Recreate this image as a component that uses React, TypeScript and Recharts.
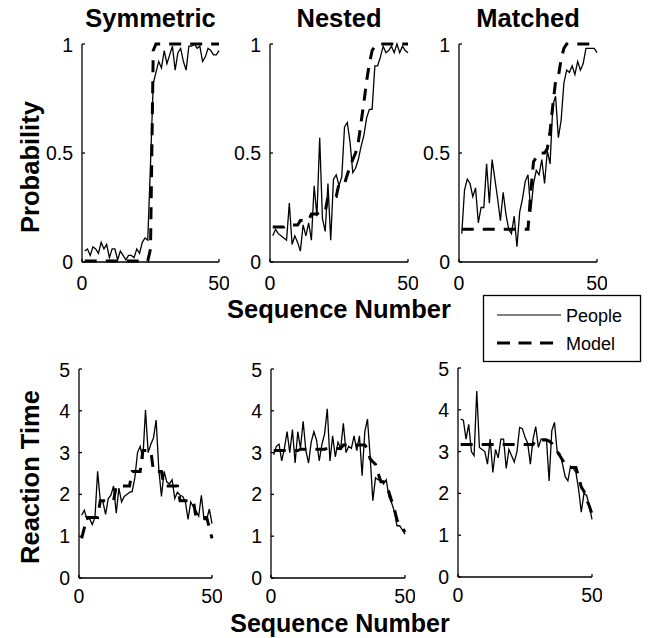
import { LineChart, Line, XAxis, YAxis } from "recharts";

const FONT = "'Liberation Sans', Arial, Helvetica, sans-serif";

const seq = [
  1, 2, 3, 4, 5, 6, 7, 8, 9, 10, 11, 12, 13, 14, 15, 16, 17, 18, 19, 20, 21, 22, 23, 24, 25,
  26, 27, 28, 29, 30, 31, 32, 33, 34, 35, 36, 37, 38, 39, 40, 41, 42, 43, 44, 45, 46, 47, 48, 49, 50,
];

const titles = ["Symmetric", "Nested", "Matched"];
const probTicks = [0, 0.5, 1];
const rtTicks = [0, 1, 2, 3, 4, 5];
const xTicks = [0, 50];

// probability of choosing, people vs model
const symProbPeople = [
  0.05, 0.06, 0.03, 0.07, 0.06, 0.04, 0.09, 0.06, 0.08, 0.02, 0.06, 0.06, 0.01, 0.05, 0.03, 0.01, 0.03, 0.03, 0.02, 0.06,
  0.04, 0.09, 0.11, 0.1, 0.45, 0.82, 0.87, 0.92, 0.89, 0.97, 0.91, 0.95, 0.99, 0.88, 0.96, 0.98, 0.92, 0.88, 0.99, 0.99,
  1.0, 0.98, 0.99, 0.92, 0.94, 0.98, 0.97, 0.95, 0.95, 0.97,
];
const symProbModel = [
  0.005, 0.005, 0.005, 0.005, 0.005, 0.005, 0.005, 0.005, 0.005, 0.005, 0.005, 0.005, 0.005, 0.005, 0.005, 0.005, 0.005,
  0.005, 0.005, 0.005, 0.005, 0.005, 0.005, 0.005, 0.06, 0.97, 1, 1, 1, 1, 1, 1, 1, 1, 1, 1, 1, 1, 1, 1, 1, 1, 1, 1, 1,
  1, 1, 1, 1, 1,
];
const nestProbPeople = [
  0.12, 0.15, 0.13, 0.12, 0.11, 0.1, 0.27, 0.08, 0.12, 0.09, 0.05, 0.17, 0.12, 0.18, 0.1, 0.35, 0.21, 0.57, 0.2, 0.14,
  0.36, 0.1, 0.38, 0.4, 0.35, 0.39, 0.62, 0.64, 0.55, 0.41, 0.43, 0.47, 0.53, 0.58, 0.66, 0.7, 0.7, 0.9, 0.9, 0.94,
  0.99, 0.96, 0.97, 0.99, 0.96, 1.0, 0.96, 0.99, 0.97, 0.96,
];
const nestProbModel = [
  0.16, 0.16, 0.16, 0.16, 0.16, 0.17, 0.17, 0.17, 0.17, 0.17, 0.19, 0.19, 0.19, 0.19, 0.22, 0.22, 0.22, 0.23, 0.23, 0.23,
  0.3, 0.3, 0.3, 0.3, 0.36, 0.36, 0.36, 0.4, 0.44, 0.47, 0.5, 0.55, 0.64, 0.73, 0.83, 0.91, 0.97, 0.99, 1, 1,
  1, 1, 1, 1, 1, 1, 1, 1, 1, 1,
];
const matchProbPeople = [
  0.13, 0.33, 0.38, 0.36, 0.3, 0.34, 0.18, 0.25, 0.25, 0.45, 0.27, 0.47, 0.38, 0.29, 0.19, 0.32, 0.22, 0.15, 0.13, 0.21,
  0.07, 0.23, 0.29, 0.37, 0.4, 0.23, 0.36, 0.42, 0.4, 0.47, 0.36, 0.51, 0.45, 0.72, 0.76, 0.57, 0.65, 0.82, 0.88, 0.87,
  0.9, 0.86, 0.92, 0.88, 0.91, 0.98, 0.98, 0.98, 0.98, 0.96,
];
const matchProbModel = [
  0.15, 0.15, 0.15, 0.15, 0.15, 0.15, 0.15, 0.15, 0.15, 0.15, 0.15, 0.15, 0.15, 0.15, 0.15, 0.15, 0.15, 0.15, 0.15, 0.15,
  0.15, 0.15, 0.15, 0.15, 0.15, 0.32, 0.46, 0.48, 0.5, 0.5, 0.5, 0.52, 0.6, 0.72, 0.83, 0.85, 0.93, 0.98, 1, 1,
  1, 1, 1, 1, 1, 1, 1, 1, 1, 1,
];

// reaction times, people vs model
const symRtPeople = [
  1.5, 1.62, 1.4, 1.42, 1.28, 1.45, 2.55, 1.85, 1.82, 1.52, 1.9, 1.98, 2.2, 1.55, 2.15, 1.82, 1.95, 2.0, 2.05, 2.07,
  2.4, 3.0, 3.15, 2.85, 4.02, 3.0, 3.2, 3.35, 3.78, 2.6, 1.95, 2.55, 2.3, 2.25, 2.35, 1.9, 2.05, 1.98, 1.95, 1.82,
  1.4, 1.82, 1.7, 1.6, 1.48, 1.98, 1.4, 1.4, 1.65, 1.3,
];
const symRtModel = [
  0.95, 1.2, 1.45, 1.45, 1.45, 1.45, 1.45, 1.85, 1.85, 1.85, 1.85, 1.85, 1.85, 2.2, 2.2, 2.2, 2.2, 2.2, 2.2, 2.55,
  2.55, 2.55, 2.55, 3.05, 3.05, 3.05, 3.05, 2.55, 2.55, 2.55, 2.55, 2.2, 2.2, 2.2, 2.2, 2.2, 2.2, 1.85, 1.85, 1.85,
  1.85, 1.85, 1.85, 1.45, 1.45, 1.45, 1.45, 1.45, 1.2, 0.95,
];
const nestRtPeople = [
  2.95, 3.15, 3.2, 2.8, 3.1, 3.5, 3.0, 3.55, 2.75, 3.5, 3.1, 3.75, 3.05, 2.75, 3.25, 3.5, 3.3, 2.8, 3.2, 3.45,
  4.05, 2.8, 3.4, 2.9, 3.25, 3.1, 3.7, 3.0, 3.15, 3.1, 3.4, 3.05, 3.4, 2.45, 3.5, 3.8, 2.9, 1.85, 2.4, 2.35,
  2.35, 2.25, 2.35, 1.95, 1.8, 1.6, 1.25, 1.25, 1.15, 1.05,
];
const nestRtModel = [
  3.05, 3.05, 3.05, 3.05, 3.05, 3.05, 3.05, 3.05, 3.05, 3.05, 3.08, 3.08, 3.08, 3.08, 3.08, 3.08, 3.08, 3.08, 3.08, 3.08,
  3.1, 3.1, 3.1, 3.1, 3.1, 3.1, 3.18, 3.18, 3.18, 3.18, 3.18, 3.18, 3.18, 3.18, 3.18, 3.1, 2.85, 2.78, 2.72, 2.5,
  2.3, 2.3, 2.25, 2.05, 1.85, 1.65, 1.4, 1.25, 1.2, 1.1,
];
const matchRtPeople = [
  3.78, 3.75, 3.3, 3.65, 3.0, 2.9, 4.45, 3.1, 3.05, 3.0, 2.7, 3.3, 2.5, 3.05, 2.85, 3.3, 3.3, 2.6, 3.05, 2.9,
  2.75, 3.0, 3.58, 3.55, 3.35, 3.2, 2.7, 3.3, 3.6, 3.1, 3.3, 3.3, 3.3, 2.3, 3.5, 3.7, 3.0, 2.95, 2.7, 2.4,
  2.3, 2.65, 2.6, 2.5, 2.1, 1.55, 2.0, 1.95, 1.7, 1.38,
];
const matchRtModel = [
  3.17, 3.17, 3.17, 3.17, 3.17, 3.17, 3.17, 3.17, 3.17, 3.17, 3.17, 3.17, 3.17, 3.17, 3.17, 3.17, 3.17, 3.17, 3.17, 3.17,
  3.17, 3.17, 3.17, 3.17, 3.17, 3.17, 3.17, 3.17, 3.28, 3.28, 3.28, 3.28, 3.28, 3.25, 3.2, 3.1, 3.0, 2.9, 2.8, 2.7,
  2.62, 2.62, 2.62, 2.62, 2.4, 2.15, 2.05, 1.85, 1.7, 1.5,
];

const rows = (people: number[], model: number[]) =>
  seq.map((x, i) => ({ x, people: people[i], model: model[i] }));

const fmt = (v: number) => String(v);
const blank = () => "";

type PanelProps = {
  box: [number, number, number, number];
  data: { x: number; people: number; model: number }[];
  yMax: number;
  yTicks: number[];
  xGap: number;
};

function Panel({ box, data, yMax, yTicks, xGap }: PanelProps) {
  const [bx, by, bw, bh] = box;
  const ml = 60;
  const mt = 10;
  const mr = 10;
  const mb = 40;
  return (
    <div style={{ position: "absolute", left: bx - ml, top: by - mt }}>
      <LineChart
        width={bw + ml + mr}
        height={bh + mt + mb}
        data={data}
        margin={{ top: mt, right: mr, left: 0, bottom: 0 }}
      >
        <XAxis
          xAxisId="b"
          dataKey="x"
          type="number"
          domain={[0, 50]}
          ticks={xTicks}
          height={mb}
          tickSize={-3}
          tickMargin={xGap}
          stroke="#000"
          strokeWidth={1.3}
          tickFormatter={fmt}
          tick={{ fill: "#000", fontSize: 19.5 }}
        />
        <XAxis
          xAxisId="t"
          orientation="top"
          dataKey="x"
          type="number"
          domain={[0, 50]}
          ticks={xTicks}
          height={0}
          tickLine={false}
          stroke="#000"
          strokeWidth={1.3}
          tickFormatter={blank}
        />
        <YAxis
          yAxisId="l"
          type="number"
          domain={[0, yMax]}
          ticks={yTicks}
          width={ml}
          tickSize={-3}
          tickMargin={12}
          stroke="#000"
          strokeWidth={1.3}
          tickFormatter={fmt}
          tick={{ fill: "#000", fontSize: 19.5 }}
        />
        <YAxis
          yAxisId="r"
          orientation="right"
          type="number"
          domain={[0, yMax]}
          ticks={yTicks}
          width={0}
          tickSize={-3}
          stroke="#000"
          strokeWidth={1.3}
          tickFormatter={blank}
        />
        <Line
          xAxisId="b"
          yAxisId="l"
          dataKey="people"
          type="linear"
          stroke="#000"
          strokeWidth={1.3}
          dot={false}
          isAnimationActive={false}
        />
        <Line
          xAxisId="b"
          yAxisId="l"
          dataKey="model"
          type="linear"
          stroke="#000"
          strokeWidth={3}
          strokeDasharray="12 9"
          dot={false}
          isAnimationActive={false}
        />
      </LineChart>
    </div>
  );
}

const topBoxes: [number, number, number, number][] = [
  [82, 44, 137, 218],
  [270, 44, 138, 218],
  [459, 44, 138, 218],
];
const bottomBoxes: [number, number, number, number][] = [
  [79, 369, 133, 209],
  [271, 369, 134, 209],
  [458, 368, 134, 209],
];

export default function App() {
  const probData = [
    rows(symProbPeople, symProbModel),
    rows(nestProbPeople, nestProbModel),
    rows(matchProbPeople, matchProbModel),
  ];
  const rtData = [
    rows(symRtPeople, symRtModel),
    rows(nestRtPeople, nestRtModel),
    rows(matchRtPeople, matchRtModel),
  ];
  return (
    <div
      style={{
        position: "absolute",
        left: 0,
        top: 0,
        width: 649,
        height: 638,
        background: "#fff",
        fontFamily: FONT,
        overflow: "hidden",
      }}
    >
      {topBoxes.map((b, i) => (
        <Panel key={"p" + i} box={b} data={probData[i]} yMax={1} yTicks={probTicks} xGap={17} />
      ))}
      {bottomBoxes.map((b, i) => (
        <Panel key={"r" + i} box={b} data={rtData[i]} yMax={5} yTicks={rtTicks} xGap={14} />
      ))}
      <svg
        width={649}
        height={638}
        style={{ position: "absolute", left: 0, top: 0, pointerEvents: "none" }}
        fontFamily={FONT}
      >
        {titles.map((t, i) => (
          <text
            key={t}
            x={topBoxes[i][0] + topBoxes[i][2] / 2}
            y={27}
            textAnchor="middle"
            fontSize={25.5}
            fontWeight="bold"
          >
            {t}
          </text>
        ))}
        <text x={339} y={318} textAnchor="middle" fontSize={25.5} fontWeight="bold">
          Sequence Number
        </text>
        <text x={340} y={632} textAnchor="middle" fontSize={25} fontWeight="bold">
          Sequence Number
        </text>
        <text transform="translate(39,167) rotate(-90)" textAnchor="middle" fontSize={25.5} fontWeight="bold">
          Probability
        </text>
        <text transform="translate(39,477) rotate(-90)" textAnchor="middle" fontSize={25.5} fontWeight="bold">
          Reaction Time
        </text>
        <rect x={483.5} y={295.5} width={157} height={66} fill="#fff" stroke="#000" strokeWidth={1.3} />
        <line x1={497} y1={315} x2={561} y2={315} stroke="#000" strokeWidth={1.2} />
        <line x1={497} y1={343} x2={561} y2={343} stroke="#000" strokeWidth={3} strokeDasharray="13 8.5" />
        <text x={566} y={322} fontSize={18}>
          People
        </text>
        <text x={566} y={350} fontSize={18}>
          Model
        </text>
      </svg>
    </div>
  );
}
